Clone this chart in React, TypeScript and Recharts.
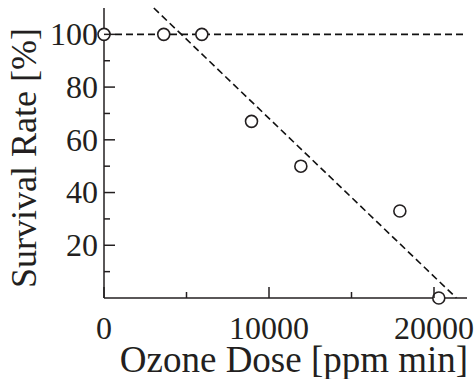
import React from "react";
import {
  ScatterChart,
  Scatter,
  XAxis,
  YAxis,
  ReferenceLine,
  Label,
} from "recharts";

// 측정값 (오존 투여량 vs 생존율)
const doseValues = [0, 3620, 5930, 8940, 11930, 17930, 20290];
const survivalValues = [100, 100, 100, 67, 50, 33, 0];

// 추세선 양 끝점 (그래프 경계에서 읽음)
const fitDose = [3020, 21360];
const fitSurvival = [110, 0];

const bottomTicks = [0, 5000, 10000, 15000, 20000];
const topTicks = [5000, 10000, 15000, 20000];
const leftTicks = [10, 20, 30, 40, 50, 60, 70, 80, 90, 100];
const rightTicks = [10, 20, 30, 40, 50, 60, 70, 80, 90, 100];

const data = doseValues.map((d, i) => ({ dose: d, rate: survivalValues[i] }));

const INK = "#231f20";
const txt: React.CSSProperties = { fontFamily: "Liberation Serif", fill: INK };

const BottomTick = (props: any) => {
  const { x, y, payload } = props;
  const v = payload.value;
  const major = v % 10000 === 0;
  return (
    <g>
      <line x1={x} y1={y} x2={x} y2={y - (major ? 11 : 6)} stroke={INK} strokeWidth={1.5} />
      {major && (
        <text x={x} y={y + 41} textAnchor="middle" fontSize={32} style={txt}>
          {v}
        </text>
      )}
    </g>
  );
};

const TopTick = (props: any) => {
  const { x, y, payload } = props;
  const len = payload.value === 5000 ? 6 : 11;
  return <line x1={x} y1={y} x2={x} y2={y + len} stroke={INK} strokeWidth={1.5} />;
};

const LeftTick = (props: any) => {
  const { x, y, payload } = props;
  const v = payload.value;
  const major = v % 20 === 0;
  return (
    <g>
      <line x1={x} y1={y} x2={x + (major ? 11 : 6)} y2={y} stroke={INK} strokeWidth={1.5} />
      {major && (
        <text x={x - 6} y={y} dy="0.34em" textAnchor="end" fontSize={32} style={txt}>
          {v}
        </text>
      )}
    </g>
  );
};

const RightTick = (props: any) => {
  const { x, y } = props;
  return <line x1={x} y1={y} x2={x - 10} y2={y} stroke={INK} strokeWidth={1.5} />;
};

const Ring = (props: any) => {
  const { cx, cy } = props;
  return <circle cx={cx} cy={cy} r={6} fill="#fff" stroke={INK} strokeWidth={1.6} />;
};

export default function App() {
  return (
    <div style={{ position: "absolute", left: 0, top: 0, width: 475, height: 379, background: "#fff" }}>
      <ScatterChart width={475} height={379} margin={{ top: 8, right: 8, bottom: 0, left: 0 }}>
        <XAxis
          xAxisId="b"
          dataKey="dose"
          type="number"
          domain={[0, 22000]}
          ticks={bottomTicks}
          orientation="bottom"
          height={81}
          tickSize={0}
          tickMargin={0}
          tickLine={false}
          tick={<BottomTick />}
          axisLine={{ stroke: INK, strokeWidth: 1.5 }}
        >
          <Label
            content={() => (
              <text x={294} y={372} textAnchor="middle" fontSize={37} style={txt}>
                Ozone Dose [ppm min]
              </text>
            )}
          />
        </XAxis>
        <XAxis
          xAxisId="t"
          type="number"
          domain={[0, 22000]}
          ticks={topTicks}
          orientation="top"
          height={0}
          tickSize={0}
          tickMargin={0}
          tickLine={false}
          tick={<TopTick />}
          axisLine={{ stroke: INK, strokeWidth: 1.5 }}
        />
        <YAxis
          yAxisId="l"
          dataKey="rate"
          type="number"
          domain={[0, 110]}
          ticks={leftTicks}
          orientation="left"
          width={104}
          tickSize={0}
          tickMargin={0}
          tickLine={false}
          tick={<LeftTick />}
          axisLine={{ stroke: INK, strokeWidth: 1.5 }}
        >
          <Label
            content={() => (
              <text
                x={36}
                y={158}
                transform="rotate(-90 36 158)"
                textAnchor="middle"
                fontSize={36}
                style={txt}
              >
                Survival Rate [%]
              </text>
            )}
          />
        </YAxis>
        <YAxis
          yAxisId="r"
          type="number"
          domain={[0, 110]}
          ticks={rightTicks}
          orientation="right"
          width={0}
          tickSize={0}
          tickMargin={0}
          tickLine={false}
          tick={<RightTick />}
          axisLine={{ stroke: INK, strokeWidth: 1.5 }}
        />
        <ReferenceLine
          xAxisId="b"
          yAxisId="l"
          y={100}
          stroke="#111"
          strokeWidth={1.6}
          strokeDasharray="7 4"
        />
        <ReferenceLine
          xAxisId="b"
          yAxisId="l"
          segment={[
            { x: fitDose[0], y: fitSurvival[0] },
            { x: fitDose[1], y: fitSurvival[1] },
          ]}
          stroke="#111"
          strokeWidth={1.6}
          strokeDasharray="7 4"
        />
        <Scatter
          xAxisId="b"
          yAxisId="l"
          data={data}
          shape={<Ring />}
          isAnimationActive={false}
        />
      </ScatterChart>
    </div>
  );
}
